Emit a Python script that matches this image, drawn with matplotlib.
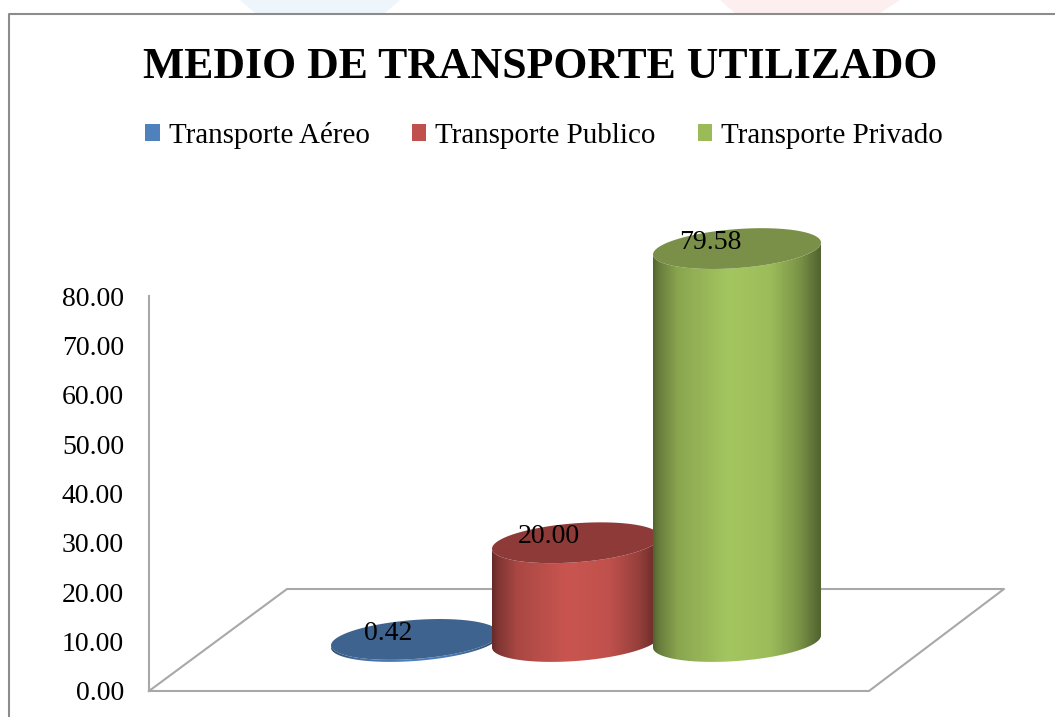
import numpy as np
import matplotlib.pyplot as plt
from matplotlib.colors import to_rgb
from matplotlib.lines import Line2D
from matplotlib.patches import Patch, Polygon

categories = ['Transporte Aéreo', 'Transporte Publico', 'Transporte Privado']
values = [0.42, 20.00, 79.58]
value_labels = ['0.42', '20.00', '79.58']
yticks = [0, 10, 20, 30, 40, 50, 60, 70, 80]

W, H = 1055, 717
SERIF = ['Liberation Serif', 'DejaVu Serif']

legend_colors = ['#4f81bd', '#c0504d', '#9bbb59']
side_colors = ['#4f81bd', '#ca5550', '#a4c65f']
top_colors = ['#3f638f', '#8e3a38', '#7a8f47']
GRID = '#a8a8a8'

plt.rcParams['font.family'] = SERIF
fig = plt.figure(figsize=(W / 100, H / 100), dpi=100)

# axes box in pixels: x 149-1004, value 0 at y=691, value 80 at y=296
ax = fig.add_axes([149 / W, (H - 691) / H, 855 / W, 395 / H])
ax.patch.set_alpha(0)

for s in ['top', 'right', 'bottom']:
    ax.spines[s].set_visible(False)
ax.spines['left'].set_color(GRID)
ax.spines['left'].set_linewidth(1.5)
ax.set_xticks([])
ax.set_yticks(yticks)
ax.set_yticklabels([f'{v:.2f}' for v in yticks], fontsize=20)
ax.tick_params(axis='y', length=0, pad=18)

# floor of the 3D chart, in axes fractions
floor_x = [0, 720 / 855, 855 / 855, 138 / 855, 0]
floor_y = [0, 0, 102 / 395, 102 / 395, 0]
ax.plot(floor_x, floor_y, color=GRID, lw=1.5, transform=ax.transAxes, clip_on=False, zorder=1)

# cylinder geometry in data units
rx = 84 / 161
ry = 19.5 / 4.9375
skew = 6 / 4.9375
base = 49.5 / 4.9375

shade_x = [0, 0.03, 0.15, 0.45, 0.7, 0.87, 0.97, 1]
shade_k = [0.5, 0.62, 0.84, 1.0, 0.95, 0.75, 0.55, 0.5]


def ellipse(cx, cy, t):
    return np.column_stack([cx + rx * np.cos(t), cy + ry * np.sin(t) + skew * np.cos(t)])


for i, (v, side, top) in enumerate(zip(values, side_colors, top_colors)):
    z = 2 + i * 2
    t = np.linspace(np.pi, 2 * np.pi, 90)
    body = np.vstack([ellipse(i, base, t), ellipse(i, base + v, t[::-1])])
    clip = Polygon(body, closed=True, transform=ax.transData, fc='none', ec='none')
    ax.add_patch(clip)
    clip.set_clip_on(False)
    ramp = np.interp(np.linspace(0, 1, 256), shade_x, shade_k)
    img = np.outer(ramp, to_rgb(side)).reshape(1, 256, 3)
    im = ax.imshow(img, extent=[i - rx, i + rx, base - 15, base + v + 15], aspect='auto',
                   interpolation='bilinear', zorder=z)
    im.set_clip_box(fig.bbox)
    im.set_clip_path(clip)
    t = np.linspace(0, 2 * np.pi, 180)
    ax.add_patch(Polygon(ellipse(i, base + v, t), closed=True, fc=top, ec='none', zorder=z + 1,
                         clip_on=False))
    ax.annotate(value_labels[i], (i, base + v), xytext=(-19.5, 4.5), textcoords='offset points',
                ha='center', va='center', fontsize=20, color='black', zorder=20,
                annotation_clip=False)

ax.set_xlim((149 - 415) / 161, (1004 - 415) / 161)
ax.set_ylim(0, 80)

fig.text(540 / W, 1 - 67 / H, 'MEDIO DE TRANSPORTE UTILIZADO', ha='center', va='center',
         fontsize=31.5, fontweight='bold', color='black')

handles = [Patch(fc=c, ec='none') for c in legend_colors]
fig.legend(handles, categories, loc='center', bbox_to_anchor=(544 / W, 1 - 135.5 / H), ncol=3,
           frameon=False, fontsize=20.9, handlelength=0.5, handleheight=0.5, handletextpad=0.31,
           columnspacing=1.45, borderpad=0, borderaxespad=0)

# page frame and the faint watermark showing above it
fig.add_artist(Line2D([9 / W, 9 / W, 1], [0, 1 - 14 / H, 1 - 14 / H], color='#8c8c8c', lw=1.5))
for xs, c in [((240, 400, 385, 255), '#eef6fb'), ((720, 900, 880, 735), '#fdeff0')]:
    fig.add_artist(Polygon(list(zip(np.array(xs) / W, 1 - np.array([0, 0, 13, 13]) / H)),
                           closed=True, transform=fig.transFigure, fc=c, ec='none', zorder=0))

fig.savefig('out.png', dpi=100, facecolor='white')
